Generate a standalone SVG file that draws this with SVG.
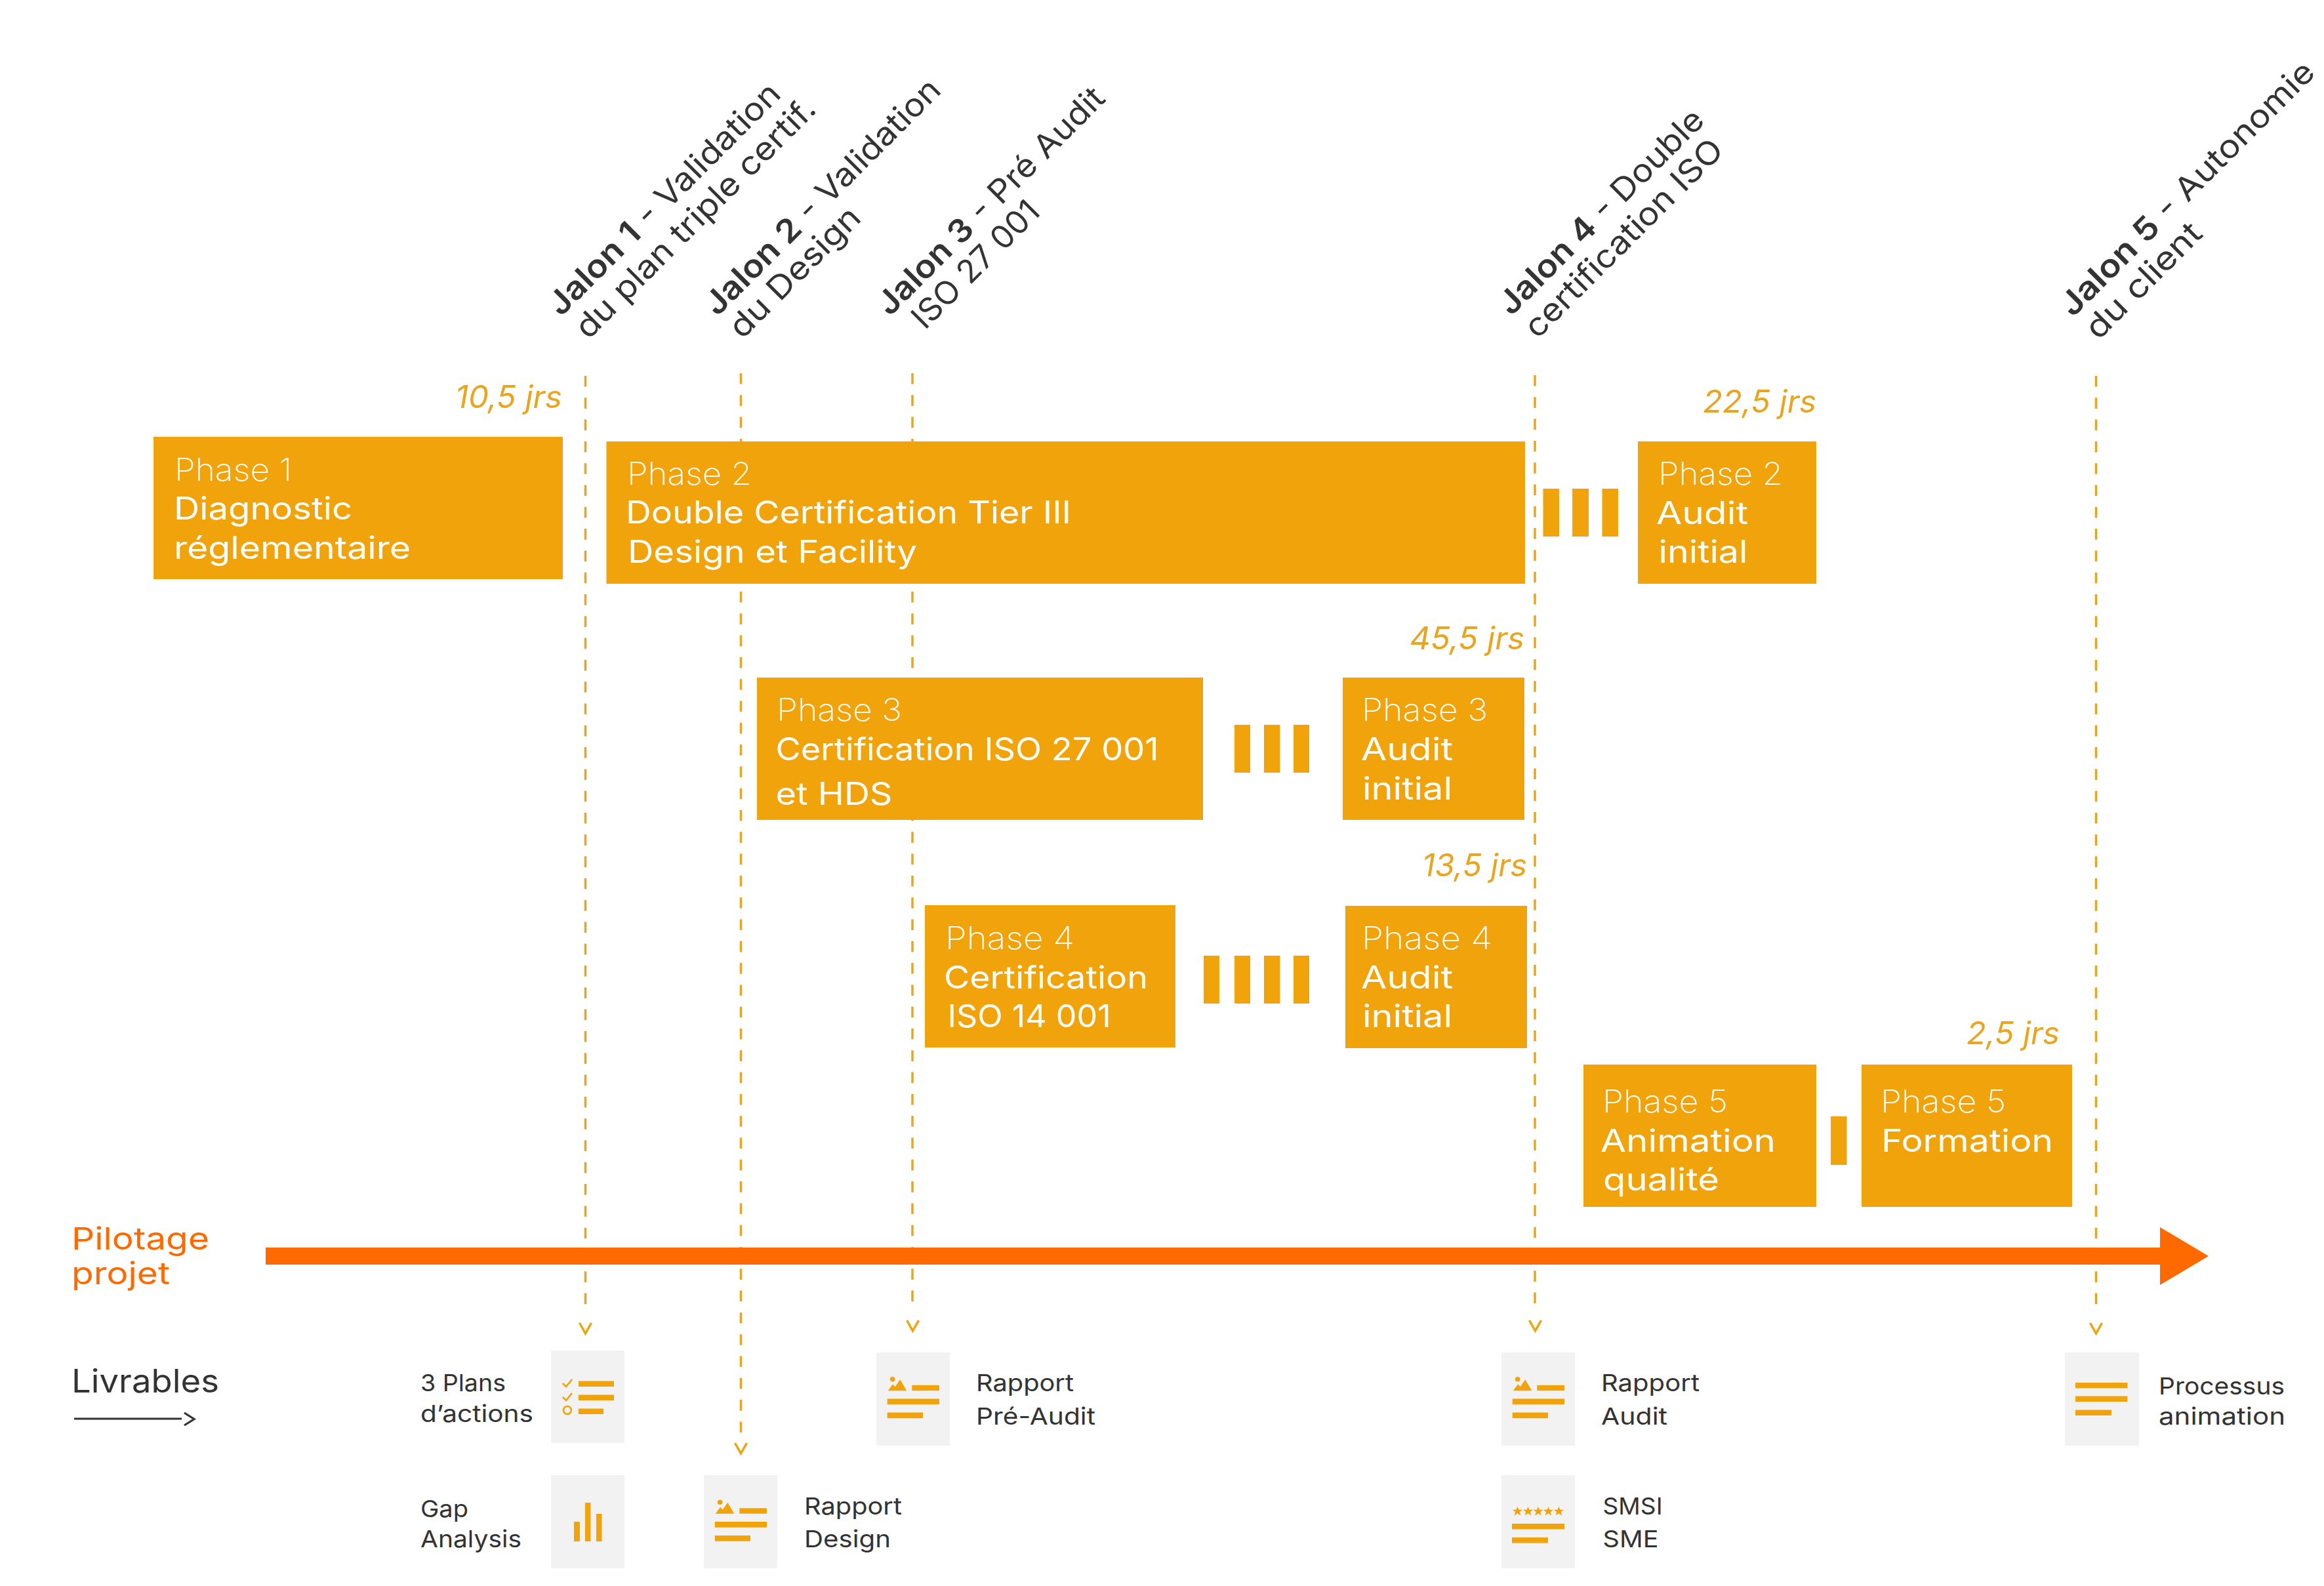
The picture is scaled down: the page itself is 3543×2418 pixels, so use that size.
<svg xmlns="http://www.w3.org/2000/svg" width="3543" height="2418" viewBox="0 0 3543 2418">
<style>
text{font-family:"Inter","Noto Sans","Liberation Sans",sans-serif;}
.box{fill:#F0A30A;}
.dash{stroke:#E6A524;stroke-width:3.5;stroke-dasharray:16.6 16.7;fill:none;}
.chev{stroke:#EFA30C;stroke-width:3.5;fill:none;}
.ph{fill:#fff;font-size:48px;font-weight:200;}
.tt{fill:#fff;font-size:48px;font-weight:400;}
.jrs{fill:#E9A51E;font-size:48px;font-style:italic;font-weight:400;}
.jal{fill:#333;font-size:49px;font-weight:400;}
.jal tspan{font-weight:600;}
.del{fill:#333;font-size:36px;font-weight:400;}
.card{fill:#F2F2F2;}
.ic{fill:#F0A30A;}
.pil{fill:#FF6A00;font-size:47px;font-weight:400;}
</style>
<defs>
<polyline id="chev" class="chev" points="-9,-16 0,0 9,-16"/>
<g id="ic-report" class="ic">
<circle cx="1097.7" cy="2290.3" r="3.8"/>
<path d="M1090.7,2307.7L1098.3,2297.7L1101.7,2301.7L1109.3,2290.7L1119.3,2307.7Z"/>
<rect x="1127.3" y="2299.3" width="41.7" height="8.4"/>
<rect x="1089.7" y="2320" width="79.3" height="8.7"/>
<rect x="1089.7" y="2341" width="54.3" height="8.7"/>
</g>
<path id="star" d="M0,-7L2,-2.2L7.6,-2.2L3.3,1L4.8,6.5L0,3.2L-4.8,6.5L-3.3,1L-7.6,-2.2L-2,-2.2Z"/>
</defs>
<rect width="3543" height="2418" fill="#fff"/>
<g id="connectors">
<line class="dash" x1="892.5" y1="573" x2="892.5" y2="1990"/>
<line class="dash" x1="1129.5" y1="569" x2="1129.5" y2="2184"/>
<line class="dash" x1="1391" y1="569" x2="1391" y2="1986"/>
<line class="dash" x1="2340" y1="572" x2="2340" y2="1987"/>
<line class="dash" x1="3195.5" y1="573" x2="3195.5" y2="1990"/>
<use href="#chev" x="892.5" y="2033"/>
<use href="#chev" x="1129.5" y="2216"/>
<use href="#chev" x="1391.5" y="2029"/>
<use href="#chev" x="2340.5" y="2029"/>
<use href="#chev" x="3195.5" y="2033"/>
</g>
<g id="milestones">
<text id="jalon1" class="jal" transform="translate(855,484) rotate(-45)" textLength="478" lengthAdjust="spacingAndGlyphs"><tspan>Jalon 1</tspan> - Validation</text>
<text class="jal" transform="translate(897,519) rotate(-45)" textLength="495" lengthAdjust="spacingAndGlyphs">du plan triple certif.</text>
<text id="jalon2" class="jal" transform="translate(1093.5,483.5) rotate(-45)" textLength="486" lengthAdjust="spacingAndGlyphs"><tspan>Jalon 2</tspan> - Validation</text>
<text class="jal" transform="translate(1131.5,518.5) rotate(-45)" textLength="260" lengthAdjust="spacingAndGlyphs">du Design</text>
<text id="jalon3" class="jal" transform="translate(1356.5,483.5) rotate(-45)" textLength="468" lengthAdjust="spacingAndGlyphs"><tspan>Jalon 3</tspan> - Pré Audit</text>
<text class="jal" transform="translate(1410,504) rotate(-45)" textLength="252" lengthAdjust="spacingAndGlyphs">ISO 27 001</text>
<text id="jalon4" class="jal" transform="translate(2304,483) rotate(-45)" textLength="420" lengthAdjust="spacingAndGlyphs"><tspan>Jalon 4</tspan> - Double</text>
<text class="jal" transform="translate(2344,518) rotate(-45)" textLength="405" lengthAdjust="spacingAndGlyphs">certification ISO</text>
<text id="jalon5" class="jal" transform="translate(3160,485) rotate(-45)" textLength="526" lengthAdjust="spacingAndGlyphs"><tspan>Jalon 5</tspan> - Autonomie</text>
<text class="jal" transform="translate(3199,520) rotate(-45)" textLength="228" lengthAdjust="spacingAndGlyphs">du client</text>
</g>
<g id="phase1">
<text class="jrs" x="694" y="622" textLength="163" lengthAdjust="spacingAndGlyphs">10,5 jrs</text>
<rect class="box" x="234" y="666" width="624" height="217"/>
<text class="ph" x="266" y="733" textLength="179" lengthAdjust="spacingAndGlyphs">Phase 1</text>
<text class="tt" x="265" y="792" textLength="272" lengthAdjust="spacingAndGlyphs">Diagnostic</text>
<text class="tt" x="265" y="852" textLength="361" lengthAdjust="spacingAndGlyphs">réglementaire</text>
</g>
<g id="phase2">
<rect class="box" x="924.5" y="673" width="1400.5" height="217"/>
<text class="ph" x="956" y="738.5" textLength="190" lengthAdjust="spacingAndGlyphs">Phase 2</text>
<text class="tt" x="954" y="798" textLength="679" lengthAdjust="spacingAndGlyphs">Double Certification Tier III</text>
<text class="tt" x="957" y="858" textLength="441" lengthAdjust="spacingAndGlyphs">Design et Facility</text>
</g>
<g id="phase2-wait">
<rect class="box" x="2352.5" y="745" width="24.5" height="73"/>
<rect class="box" x="2397" y="745" width="25" height="73"/>
<rect class="box" x="2442.5" y="745" width="24.5" height="73"/>
</g>
<g id="phase2-audit">
<text class="jrs" x="2596" y="629" textLength="173" lengthAdjust="spacingAndGlyphs">22,5 jrs</text>
<rect class="box" x="2497" y="673" width="272" height="217"/>
<text class="ph" x="2528" y="739" textLength="190" lengthAdjust="spacingAndGlyphs">Phase 2</text>
<text class="tt" x="2525" y="799" textLength="140" lengthAdjust="spacingAndGlyphs">Audit</text>
<text class="tt" x="2528.5" y="858" textLength="136" lengthAdjust="spacingAndGlyphs">initial</text>
</g>
<g id="phase3">
<rect class="box" x="1154" y="1033" width="680" height="217"/>
<text class="ph" x="1184" y="1098.5" textLength="191" lengthAdjust="spacingAndGlyphs">Phase 3</text>
<text class="tt" x="1182.5" y="1159" textLength="584" lengthAdjust="spacingAndGlyphs">Certification ISO 27 001</text>
<text class="tt" x="1182.5" y="1227" textLength="178" lengthAdjust="spacingAndGlyphs">et HDS</text>
</g>
<g id="phase3-wait">
<rect class="box" x="1882" y="1105" width="24" height="73"/>
<rect class="box" x="1927" y="1105" width="24.5" height="73"/>
<rect class="box" x="1972" y="1105" width="24" height="73"/>
</g>
<g id="phase3-audit">
<text class="jrs" x="2149" y="989.5" textLength="175" lengthAdjust="spacingAndGlyphs">45,5 jrs</text>
<rect class="box" x="2047" y="1033" width="277" height="217"/>
<text class="ph" x="2076" y="1098.5" textLength="192" lengthAdjust="spacingAndGlyphs">Phase 3</text>
<text class="tt" x="2075" y="1159" textLength="140" lengthAdjust="spacingAndGlyphs">Audit</text>
<text class="tt" x="2077" y="1219" textLength="137" lengthAdjust="spacingAndGlyphs">initial</text>
</g>
<g id="phase4">
<rect class="box" x="1410" y="1380" width="382" height="217"/>
<text class="ph" x="1441" y="1446.5" textLength="197" lengthAdjust="spacingAndGlyphs">Phase 4</text>
<text class="tt" x="1439" y="1507" textLength="311" lengthAdjust="spacingAndGlyphs">Certification</text>
<text class="tt" x="1444.6" y="1566" textLength="249" lengthAdjust="spacingAndGlyphs">ISO 14 001</text>
</g>
<g id="phase4-wait">
<rect class="box" x="1835" y="1457" width="24" height="73"/>
<rect class="box" x="1882" y="1457" width="24" height="73"/>
<rect class="box" x="1927" y="1457" width="24.5" height="73"/>
<rect class="box" x="1972" y="1457" width="24" height="73"/>
</g>
<g id="phase4-audit">
<text class="jrs" x="2168" y="1336" textLength="160" lengthAdjust="spacingAndGlyphs">13,5 jrs</text>
<rect class="box" x="2051" y="1381" width="277" height="217"/>
<text class="ph" x="2076" y="1446.5" textLength="199" lengthAdjust="spacingAndGlyphs">Phase 4</text>
<text class="tt" x="2075" y="1507" textLength="140" lengthAdjust="spacingAndGlyphs">Audit</text>
<text class="tt" x="2077" y="1566" textLength="137" lengthAdjust="spacingAndGlyphs">initial</text>
</g>
<g id="phase5">
<rect class="box" x="2414" y="1623" width="355" height="217"/>
<text class="ph" x="2443" y="1696" textLength="191" lengthAdjust="spacingAndGlyphs">Phase 5</text>
<text class="tt" x="2440" y="1756" textLength="267" lengthAdjust="spacingAndGlyphs">Animation</text>
<text class="tt" x="2444" y="1815" textLength="177" lengthAdjust="spacingAndGlyphs">qualité</text>
</g>
<g id="phase5-wait">
<rect class="box" x="2791" y="1702" width="24.5" height="74"/>
</g>
<g id="phase5-formation">
<text class="jrs" x="2998" y="1592" textLength="142" lengthAdjust="spacingAndGlyphs">2,5 jrs</text>
<rect class="box" x="2838" y="1623" width="321" height="217"/>
<text class="ph" x="2867" y="1696" textLength="191" lengthAdjust="spacingAndGlyphs">Phase 5</text>
<text class="tt" x="2868" y="1756" textLength="262" lengthAdjust="spacingAndGlyphs">Formation</text>
</g>
<g id="pilotage">
<text class="pil" x="109" y="1905" textLength="210" lengthAdjust="spacingAndGlyphs">Pilotage</text>
<text class="pil" x="109" y="1958" textLength="150" lengthAdjust="spacingAndGlyphs">projet</text>
<polygon fill="#FF6A00" points="405,1902 3293,1902 3293,1871 3367,1915 3293,1959 3293,1928 405,1928"/>
</g>
<g id="livrables">
<text x="109" y="2123" fill="#333" font-size="49" textLength="225" lengthAdjust="spacingAndGlyphs">Livrables</text>
<path d="M113,2163H277M281,2154L296,2163.5L281,2173" fill="none" stroke="#333" stroke-width="3.2"/>
</g>
<g id="del-plans">
<text class="del" x="641" y="2121" textLength="130" lengthAdjust="spacingAndGlyphs">3 Plans</text>
<text class="del" x="641" y="2167.5" textLength="172" lengthAdjust="spacingAndGlyphs">d’actions</text>
<rect class="card" x="840" y="2059" width="112" height="141"/>
<g class="ic">
<rect x="882" y="2105.5" width="54" height="8.5"/>
<rect x="882" y="2126.5" width="54" height="8.5"/>
<rect x="882" y="2147.5" width="38" height="8.5"/>
</g>
<path d="M858,2109L863,2114L872,2103M858,2130L863,2135L872,2124" fill="none" stroke="#F0A30A" stroke-width="2.6"/>
<circle cx="865" cy="2150" r="6" fill="none" stroke="#F0A30A" stroke-width="2.6"/>
</g>
<g id="del-gap">
<text class="del" x="641" y="2313" textLength="73" lengthAdjust="spacingAndGlyphs">Gap</text>
<text class="del" x="641" y="2359" textLength="154" lengthAdjust="spacingAndGlyphs">Analysis</text>
<rect class="card" x="840" y="2249" width="112" height="142"/>
<g class="ic">
<rect x="875" y="2320" width="9" height="30"/>
<rect x="892" y="2291" width="8.5" height="59"/>
<rect x="909" y="2308" width="8.5" height="42"/>
</g>
</g>
<g id="del-design">
<rect class="card" x="1073" y="2249" width="112" height="142"/>
<use href="#ic-report"/>
<text class="del" x="1226" y="2309" textLength="149" lengthAdjust="spacingAndGlyphs">Rapport</text>
<text class="del" x="1226" y="2359" textLength="132" lengthAdjust="spacingAndGlyphs">Design</text>
</g>
<g id="del-preaudit">
<rect class="card" x="1336" y="2062" width="112" height="142"/>
<use href="#ic-report" x="263" y="-187.5"/>
<text class="del" x="1488" y="2121" textLength="149" lengthAdjust="spacingAndGlyphs">Rapport</text>
<text class="del" x="1488" y="2171.5" textLength="182" lengthAdjust="spacingAndGlyphs">Pré-Audit</text>
</g>
<g id="del-audit">
<rect class="card" x="2289" y="2062" width="112" height="142"/>
<use href="#ic-report" x="1216" y="-187.5"/>
<text class="del" x="2441" y="2121" textLength="150" lengthAdjust="spacingAndGlyphs">Rapport</text>
<text class="del" x="2441" y="2172" textLength="101" lengthAdjust="spacingAndGlyphs">Audit</text>
</g>
<g id="del-smsi">
<rect class="card" x="2289" y="2249" width="112" height="142"/>
<g class="ic">
<use href="#star" x="2313.5" y="2304"/>
<use href="#star" x="2329.5" y="2304"/>
<use href="#star" x="2345" y="2304"/>
<use href="#star" x="2360.5" y="2304"/>
<use href="#star" x="2376.5" y="2304"/>
<rect x="2305" y="2323" width="80" height="8.5"/>
<rect x="2305" y="2344" width="55" height="8.5"/>
</g>
<text class="del" x="2443.6" y="2309" textLength="91" lengthAdjust="spacingAndGlyphs">SMSI</text>
<text class="del" x="2443.6" y="2359" textLength="85" lengthAdjust="spacingAndGlyphs">SME</text>
</g>
<g id="del-processus">
<rect class="card" x="3148" y="2062" width="113" height="142"/>
<g class="ic">
<rect x="3164" y="2108" width="79.5" height="8.5"/>
<rect x="3164" y="2128.5" width="79.5" height="8.5"/>
<rect x="3164" y="2149.5" width="55" height="8.5"/>
</g>
<text class="del" x="3291" y="2126" textLength="192" lengthAdjust="spacingAndGlyphs">Processus</text>
<text class="del" x="3291" y="2172" textLength="193" lengthAdjust="spacingAndGlyphs">animation</text>
</g>
</svg>
